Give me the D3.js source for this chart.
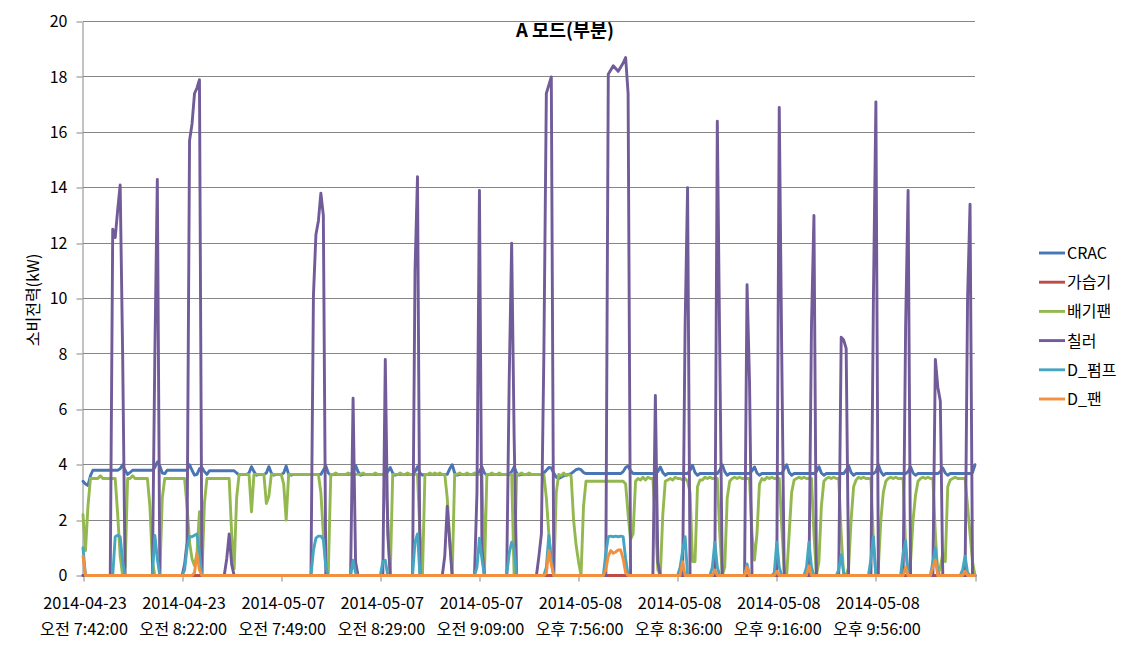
<!DOCTYPE html>
<html><head><meta charset="utf-8">
<script src="https://cdn.jsdelivr.net/npm/d3@7"></script>
<style>body{margin:0;background:#fff}svg{display:block}text{font-family:"Noto Sans CJK KR","Noto Sans",sans-serif;fill:#000}</style>
</head><body><svg id="c" width="1132" height="652"></svg>
<script>
const titleText = "A 모드(부분)";
const yLabel = "소비전력(kW)";
const seriesNames = ["CRAC","가습기","배기팬","칠러","D_펌프","D_팬"];
const seriesColors = ["#4775b5","#be4b48","#94b850","#715b99","#46a6c2","#f2903e"];
const yTicks = [0,2,4,6,8,10,12,14,16,18,20];
const tickIndex = [0,40,80,120,160,200,240,280,320,360];
const tickDates = ["2014-04-23","2014-04-23","2014-05-07","2014-05-07","2014-05-07","2014-05-08","2014-05-08","2014-05-08","2014-05-08",""];
const tickTimes = ["오전 7:42:00","오전 8:22:00","오전 7:49:00","오전 8:29:00","오전 9:09:00","오후 7:56:00","오후 8:36:00","오후 9:16:00","오후 9:56:00",""];

const crac = [
3.4,3.3,3.25,3.6,3.8,3.8,3.8,3.8,3.8,3.8,
3.8,3.8,3.8,3.8,3.8,3.85,4.0,3.8,3.65,3.72,
3.8,3.8,3.8,3.8,3.8,3.8,3.8,3.8,3.8,3.9,
4.1,3.95,3.7,3.68,3.8,3.8,3.8,3.8,3.8,3.8,
3.8,3.8,3.8,4.0,3.8,3.62,3.65,3.85,3.9,3.75,
3.65,3.78,3.78,3.78,3.78,3.78,3.78,3.78,3.78,3.78,
3.78,3.78,3.7,3.63,3.65,3.65,3.65,3.7,3.93,3.75,
3.62,3.65,3.65,3.65,3.7,3.93,3.7,3.62,3.65,3.65,
3.65,3.7,3.95,3.65,3.62,3.65,3.65,3.65,3.65,3.65,
3.65,3.65,3.65,3.65,3.65,3.65,3.65,3.8,3.95,3.7,
3.62,3.65,3.65,3.65,3.65,3.65,3.65,3.65,3.65,3.75,
3.98,3.75,3.62,3.65,3.65,3.65,3.65,3.65,3.65,3.65,
3.65,3.65,3.65,3.75,3.9,3.7,3.62,3.65,3.65,3.65,
3.65,3.65,3.65,3.65,3.75,3.93,3.7,3.62,3.65,3.65,
3.65,3.65,3.65,3.65,3.65,3.65,3.65,3.65,3.85,4.0,
3.7,3.62,3.65,3.65,3.65,3.65,3.65,3.65,3.65,3.65,
3.75,3.92,3.7,3.62,3.65,3.65,3.65,3.65,3.65,3.65,
3.65,3.65,3.65,3.75,3.92,3.7,3.62,3.65,3.65,3.65,
3.65,3.65,3.65,3.65,3.65,3.65,3.7,3.8,3.9,3.88,
3.7,3.55,3.5,3.55,3.6,3.62,3.65,3.68,3.75,3.82,
3.85,3.82,3.72,3.68,3.68,3.68,3.68,3.68,3.68,3.68,
3.68,3.68,3.68,3.68,3.68,3.68,3.68,3.68,3.75,3.9,
3.95,3.78,3.68,3.68,3.68,3.68,3.68,3.68,3.68,3.68,
3.68,3.68,3.75,3.92,3.72,3.62,3.68,3.68,3.68,3.68,
3.68,3.68,3.68,3.68,3.68,3.8,3.98,3.72,3.62,3.68,
3.68,3.68,3.68,3.68,3.68,3.68,3.68,3.8,4.0,3.75,
3.62,3.68,3.68,3.68,3.68,3.68,3.68,3.68,3.68,3.68,
3.78,3.92,3.7,3.62,3.68,3.68,3.68,3.68,3.68,3.68,
3.68,3.68,3.68,3.85,4.0,3.72,3.62,3.68,3.68,3.68,
3.68,3.68,3.68,3.68,3.68,3.68,3.75,3.93,3.7,3.62,
3.68,3.68,3.68,3.68,3.68,3.68,3.68,3.68,3.8,3.96,
3.72,3.62,3.68,3.68,3.68,3.68,3.68,3.68,3.68,3.68,
3.75,4.0,3.75,3.62,3.68,3.68,3.68,3.68,3.68,3.68,
3.68,3.68,3.68,3.75,3.92,3.7,3.62,3.68,3.68,3.68,
3.68,3.68,3.68,3.68,3.68,3.68,3.75,3.88,3.7,3.62,
3.68,3.68,3.68,3.68,3.68,3.68,3.68,3.68,3.68,3.72,
4.0];

const humidifier = [
0,0,0,0,0,0,0,0,0,0, 0,0,0,0,0,0,0,0,0,0, 0,0,0,0,0,0,0,0,0,0, 0,0,0,0,0,0,0,0,0,0,
0,0,0,0,0,0,0,0,0,0, 0,0,0,0,0,0,0,0,0,0, 0,0,0,0,0,0,0,0,0,0, 0,0,0,0,0,0,0,0,0,0,
0,0,0,0,0,0,0,0,0,0, 0,0,0,0,0,0,0,0,0,0, 0,0,0,0,0,0,0,0,0,0, 0,0,0,0,0,0,0,0,0,0,
0,0,0,0,0,0,0,0,0,0, 0,0,0,0,0,0,0,0,0,0, 0,0,0,0,0,0,0,0,0,0, 0,0,0,0,0,0,0,0,0,0,
0,0,0,0,0,0,0,0,0,0, 0,0,0,0,0,0,0,0,0,0, 0,0,0,0,0,0,0,0,0,0, 0,0,0,0,0,0,0,0,0,0,
0,0,0,0,0,0,0,0,0,0, 0,0,0,0,0,0,0,0,0,0, 0,0,0,0,0,0,0,0,0,0, 0,0,0,0,0,0,0,0,0,0,
0,0,0,0,0,0,0,0,0,0, 0,0,0,0,0,0,0,0,0,0, 0,0,0,0,0,0,0,0,0,0, 0,0,0,0,0,0,0,0,0,0,
0,0,0,0,0,0,0,0,0,0, 0,0,0,0,0,0,0,0,0,0, 0,0,0,0,0,0,0,0,0,0, 0,0,0,0,0,0,0,0,0,0,
0,0,0,0,0,0,0,0,0,0, 0,0,0,0,0,0,0,0,0,0, 0,0,0,0,0,0,0,0,0,0, 0,0,0,0,0,0,0,0,0,0,
0];

const exhaustFan = [
2.2,0.9,2.5,3.5,3.5,3.5,3.5,3.6,3.5,3.5,
3.5,3.5,3.5,3.5,2.2,0.7,0,0.3,3.5,3.5,
3.6,3.5,3.5,3.5,3.5,3.5,3.5,2.5,0.5,0,
0,0,2.8,3.5,3.5,3.5,3.5,3.5,3.5,3.5,
3.5,3.5,2.5,1.2,0.6,0.35,0.8,2.3,0,2.6,
3.5,3.5,3.5,3.5,3.5,3.5,3.5,3.5,3.5,3.5,
1.5,0.25,2.8,3.65,3.65,3.65,3.65,3.65,2.3,3.65,
3.65,3.65,3.65,3.65,2.6,2.85,3.65,3.65,3.65,3.65,
3.65,3.3,2.0,3.65,3.65,3.65,3.65,3.65,3.65,3.65,
3.65,3.65,3.65,3.65,3.65,3.65,3.0,1.5,0.4,0.1,
3.65,3.65,3.7,3.65,3.65,3.65,3.65,3.7,3.65,3.65,
3.65,3.65,3.65,3.7,3.65,3.65,3.65,3.65,3.7,3.65,
3.65,3.65,3.65,2.0,0,3.65,3.65,3.65,3.7,3.65,
3.65,3.7,3.65,3.65,3.65,3.65,1.5,0,3.65,3.65,
3.7,3.65,3.7,3.65,3.7,3.65,3.65,2.8,1.3,0,
3.65,3.65,3.7,3.65,3.65,3.7,3.65,3.65,3.7,3.65,
3.65,3.65,0,3.65,3.65,3.7,3.65,3.65,3.7,3.65,
3.65,3.65,3.65,3.65,0,3.65,3.65,3.7,3.65,3.65,
3.7,3.65,3.65,3.65,3.65,3.65,3.65,2.8,1.5,0.5,
0,3.0,3.65,3.6,3.7,3.6,3.65,3.6,2.0,1.1,
0.5,0,2.5,3.4,3.4,3.4,3.4,3.4,3.4,3.4,
3.4,3.4,3.4,3.4,3.4,3.4,3.4,3.4,3.4,3.3,
2.2,1.3,1.5,3.4,3.5,3.45,3.55,3.45,3.55,3.5,
3.5,2.0,0.2,0,2.2,3.4,3.45,3.5,3.45,3.55,
3.5,3.5,3.45,3.5,3.4,3.0,0.5,0.5,3.2,3.45,
3.45,3.55,3.5,3.55,3.5,3.5,3.5,1.5,0,0.3,
2.8,3.4,3.5,3.55,3.5,3.55,3.5,3.5,3.5,3.5,
1.5,0.56,1.5,3.3,3.5,3.45,3.55,3.5,3.55,3.5,
3.5,3.5,1.8,0.2,0,1.5,3.0,3.45,3.5,3.55,
3.5,3.55,3.5,3.5,3.5,1.5,0,0.5,2.5,3.4,
3.5,3.55,3.5,3.55,3.5,3.5,1.5,0,0,0.3,
2.0,3.2,3.45,3.55,3.5,3.55,3.5,3.5,3.5,1.2,
0,0.3,2.0,3.0,3.4,3.5,3.55,3.5,3.55,3.5,
3.5,3.5,1.0,0,0.5,2.0,2.9,3.4,3.5,3.55,
3.5,3.55,3.5,3.5,1.5,0,0.3,0.8,0.5,3.2,
3.45,3.5,3.55,3.5,3.5,3.5,3.5,2.5,1.5,0.5,
0];

const chiller = [
0,0,0,0,0,0,0,0,0,0,
0,0,12.5,12.2,13.2,14.1,8,0,0,0,
0,0,0,0,0,0,0,0,0,8,
14.3,0,0,0,0,0,0,0,0,0,
0,0.4,1.2,15.7,16.3,17.4,17.6,17.9,0,0,
0,0,0,0,0,0,0,0,0.6,1.5,
0.4,0,0,0,0,0,0,0,0,0,
0,0,0,0,0,0,0,0,0,0,
0,0,0,0,0,0,0,0,0,0,
0,0,0,10.1,12.3,12.8,13.8,13.0,0,0,
0,0,0,0,0,0,0,0,0,6.4,
0.5,0,0,0,0,0,0,0,0,0,
0,0,7.8,1.5,0,0,0,0,0,0,
0,0,0,0,11,14.4,0,0,0,0,
0,0,0,0,0,0,0.7,2.5,1.2,0,
0,0,0,0,0,0,0,0,0,3,
13.9,1,0,0,0,0,0,0,0,0,
0,0,7,12,5,0,0,0,0,0,
0,0,0,0,0.7,1.5,8,17.4,17.7,18.0,
0,0,0,0,0,0,0,0,0,0,
0,0,0,0,0,0,0,0,0,0,
0,0,18.1,18.25,18.4,18.3,18.2,18.35,18.5,18.7,
17.4,0,0,0,0,0,0,0,0,0,
0,6.5,0.5,0,0,0,0,0,0,0,
0,0,0,9,14.0,0,0,0,0,0,
0,0,0,0,0,0,16.4,8,0,0,
0,0,0,0,0,0,0,0,10.5,7,
0,0,0,0,0,0,0,0,0,0,
0,16.9,8,0,0,0,0,0,0,0,
0,0,0,0,9,13.0,0,0,0,0,
0,0,0,0,0,0,8.6,8.5,8.2,0,
0,0,0,0,0,0,0,0,0,10,
17.1,0,0,0,0,0,0,0,0,0,
0,0,9,13.9,0,0,0,0,0,0,
0,0,0,0,7.8,6.8,6.3,0,0,0,
0,0,0,0,0,0,0,10,13.4,0,
0];

const dPump = [
1.0,0,0,0,0,0,0,0,0,0,
0,0,0,1.4,1.45,1.4,0.5,0,0,0,
0,0,0,0,0,0,0,0,0,1.45,
0.6,0,0,0,0,0,0,0,0,0,
0,0.2,1.0,1.4,1.4,1.45,1.5,0.8,0,0,
0,0,0,0,0,0,0,0,0,0,
0,0,0,0,0,0,0,0,0,0,
0,0,0,0,0,0,0,0,0,0,
0,0,0,0,0,0,0,0,0,0,
0,0,0,0.9,1.35,1.42,1.42,1.3,0.3,0,
0,0,0,0,0,0,0,0,0,0.55,
0.1,0,0,0,0,0,0,0,0,0,
0,0.5,0.55,0,0,0,0,0,0,0,
0,0,0,0,1.2,1.5,0,0,0,0,
0,0,0,0,0,0,0,0,0,0,
0,0,0,0,0,0,0,0,0,0.3,
1.35,0.6,0,0,0,0,0,0,0,0,
0,0,0.8,1.2,1.0,0,0,0,0,0,
0,0,0,0,0,0,0,0.3,1.45,0.6,
0,0,0,0,0,0,0,0,0,0,
0,0,0,0,0,0,0,0,0,0,
0,0.8,1.4,1.42,1.4,1.42,1.4,1.42,1.4,0.6,
0,0,0,0,0,0,0,0,0,0,
0,0,0,0,0,0,0,0,0,0,
0,0.3,0.9,1.4,0,0,0,0,0,0,
0,0,0,0,0.3,1.2,0.3,0,0,0,
0,0,0,0,0,0,0,0,0.42,0,
0,0,0,0,0,0,0,0,0,0.1,
1.2,0.3,0,0,0,0,0,0,0,0,
0,0,0.3,1.2,0.3,0,0,0,0,0,
0,0,0,0,0,0.2,0.75,0.1,0,0,
0,0,0,0,0,0,0,0,0.6,1.4,
0,0,0,0,0,0,0,0,0,0,
0,0.8,1.25,0,0,0,0,0,0,0,
0,0,0,0.5,1.0,0.1,0,0,0,0,
0,0,0,0,0,0.2,0.7,0.1,0,0,
0];

const dFan = [
0.7,0,0,0,0,0,0,0,0,0,
0,0,0,0,0,0,0,0,0,0,
0,0,0,0,0,0,0,0,0,0,
0,0,0,0,0,0,0,0,0,0,
0,0,0,0,0,0.1,0.8,0.2,0,0,
0,0,0,0,0,0,0,0,0,0,
0,0,0,0,0,0,0,0,0,0,
0,0,0,0,0,0,0,0,0,0,
0,0,0,0,0,0,0,0,0,0,
0,0,0,0,0,0,0,0,0,0,
0,0,0,0,0,0,0,0,0,0,
0,0,0,0,0,0,0,0,0,0,
0,0,0,0,0,0,0,0,0,0,
0,0,0,0,0,0,0,0,0,0,
0,0,0,0,0,0,0,0,0,0,
0,0,0,0,0,0,0,0,0,0,
0,0,0,0,0,0,0,0,0,0,
0,0,0,0,0,0,0,0,0,0,
0,0,0,0,0,0,0,0.1,0.9,0.4,
0,0,0,0,0,0,0,0,0,0,
0,0,0,0,0,0,0,0,0,0,
0,0.2,0.7,0.9,0.8,0.85,0.92,0.92,0.6,0.1,
0,0,0,0,0,0,0,0,0,0,
0,0,0,0,0,0,0,0,0,0,
0,0,0.5,0,0,0,0,0,0,0,
0,0,0,0,0,0.2,0,0,0,0,
0,0,0,0,0,0,0,0,0.3,0,
0,0,0,0,0,0,0,0,0,0,
0.15,0,0,0,0,0,0,0,0,0,
0,0,0,0.35,0,0,0,0,0,0,
0,0,0,0,0,0,0,0,0,0,
0,0,0,0,0,0,0,0,0,0,
0,0,0,0,0,0,0,0,0,0,
0,0,0.3,0,0,0,0,0,0,0,
0,0,0,0.3,0.56,0,0,0,0,0,
0,0,0,0,0,0,0.15,0,0,0,
0];

const seriesValues = [crac, humidifier, exhaustFan, chiller, dPump, dFan];

const svg = d3.select("#c");
const L = 83, R = 975, T = 21.5, B = 575.5;
const N = crac.length;
const x = d3.scalePoint().domain(d3.range(N)).range([L, R]);
const y = d3.scaleLinear().domain([0, 20]).range([B, T]);
const crisp = v => Math.round(v - 0.5) + 0.5;

// gridlines
svg.append("g").selectAll("line").data(yTicks.filter(v => v > 0)).join("line")
  .attr("x1", L).attr("x2", R).attr("y1", d => crisp(y(d))).attr("y2", d => crisp(y(d)))
  .attr("stroke", "#868686").attr("stroke-width", 1);

// y axis
const yAxis = svg.append("g").attr("transform", `translate(${L - 0.5},0)`)
  .call(d3.axisLeft(y).tickValues(yTicks).tickSize(6).tickPadding(9).tickSizeOuter(0));
yAxis.select(".domain").attr("stroke", "#868686");
yAxis.selectAll(".tick line").attr("stroke", "#868686").attr("transform", d => `translate(0,${crisp(y(d)) - y(d)})`);
yAxis.selectAll(".tick text").attr("font-size", 16).attr("font-family", '"Noto Sans CJK KR", sans-serif').attr("fill", "#000");

// x axis
const xAxis = svg.append("g").attr("transform", `translate(0,${B})`)
  .call(d3.axisBottom(x).tickValues(tickIndex).tickSize(6).tickSizeOuter(0).tickFormat(() => ""));
xAxis.select(".domain").attr("stroke", "#868686").attr("d", `M${L},0.5H${R}`);
xAxis.selectAll(".tick line").attr("stroke", "#868686").attr("transform", d => `translate(${crisp(x(d)) - x(d)},0)`);

const lab = svg.append("g");
tickIndex.forEach((ti, k) => {
  if (!tickDates[k]) return;
  const t = lab.append("text").attr("text-anchor", "middle").attr("font-size", 16.3);
  t.append("tspan").attr("x", x(ti) + 2).attr("y", 609).text(tickDates[k]);
  t.append("tspan").attr("x", x(ti) + 1).attr("y", 635).text(tickTimes[k]);
});

// lines
const line = d3.line().x((d, i) => x(i)).y(d => y(d));
svg.append("g").selectAll("path").data(seriesValues).join("path")
  .attr("d", d => line(d)).attr("fill", "none")
  .attr("stroke", (d, i) => seriesColors[i]).attr("stroke-width", 2.9)
  .attr("stroke-linejoin", "round").attr("stroke-linecap", "round");

// title
svg.append("text").attr("x", 565).attr("y", 36.5).attr("text-anchor", "middle")
  .attr("font-size", 18.5).attr("font-weight", "bold").text(titleText);

// y label
svg.append("text").attr("transform", "translate(39,300) rotate(-90)").attr("text-anchor", "middle")
  .attr("font-size", 16).text(yLabel);

// legend
const lg = svg.append("g");
seriesNames.forEach((n, i) => {
  const yy = 253 + i * 29.2;
  lg.append("line").attr("x1", 1039).attr("x2", 1065).attr("y1", yy).attr("y2", yy)
    .attr("stroke", seriesColors[i]).attr("stroke-width", 2.9);
  lg.append("text").attr("x", 1067).attr("y", yy + 6).attr("font-size", 16).text(n);
});
</script></body></html>
